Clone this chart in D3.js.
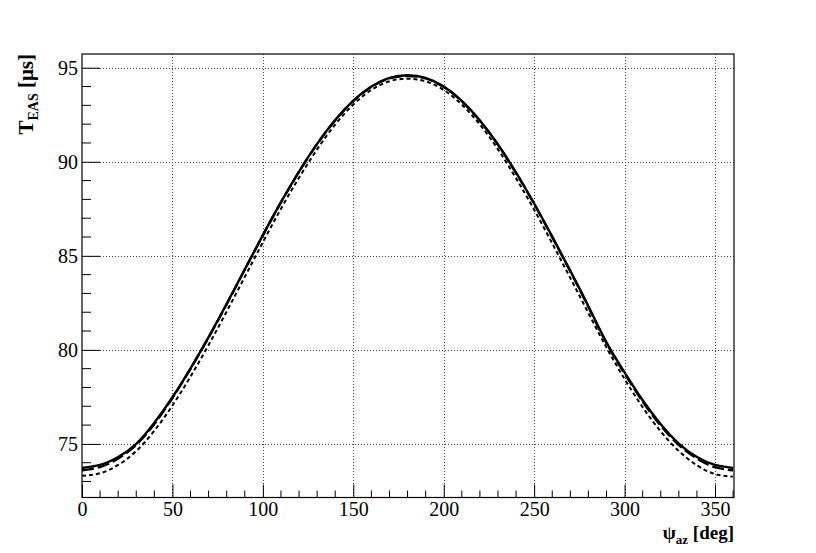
<!DOCTYPE html>
<html>
<head>
<meta charset="utf-8">
<script src="https://cdn.jsdelivr.net/npm/d3@7"></script>
<style>
html,body{margin:0;padding:0;background:#fff;}
svg{display:block;}
text{font-family:"Liberation Serif","Times New Roman",serif;}
</style>
</head>
<body>
<svg id="chart" width="816" height="553"></svg>
<script>
// ---- data ----
const psi = [0,10,20,30,40,50,60,70,80,90,100,110,120,130,140,150,160,170,180,
             190,200,210,220,230,240,250,260,270,280,290,300,310,320,330,340,350,360];
const solidT = [73.72,73.88,74.30,75.00,76.12,77.48,79.02,80.68,82.45,84.28,86.10,87.85,89.48,90.95,92.22,93.25,94.00,94.46,94.60,
                94.46,94.00,93.24,92.20,90.92,89.42,87.78,86.02,84.20,82.32,80.40,78.80,77.32,76.05,75.02,74.30,73.88,73.72];
const longDashT = [73.60,73.77,74.22,74.95,76.06,77.44,78.99,80.66,82.43,84.27,86.09,87.84,89.47,90.94,92.20,93.23,93.98,94.43,94.56,
                   94.43,93.98,93.22,92.18,90.90,89.40,87.76,85.99,84.17,82.28,80.35,78.74,77.25,75.97,74.94,74.22,73.76,73.60];
const shortDashT = [73.30,73.44,73.88,74.62,75.70,77.04,78.58,80.26,82.04,83.88,85.72,87.50,89.15,90.66,91.98,93.04,93.82,94.28,94.42,
                    94.28,93.82,93.04,91.98,90.66,89.12,87.45,85.66,83.82,81.95,80.12,78.45,76.95,75.66,74.62,73.86,73.40,73.26];
const xTicks = [0,50,100,150,200,250,300,350];
const yTicks = [75,80,85,90,95];
const xTitle = "ψ";
const xTitleSub = "az";
const xTitleUnit = " [deg]";
const yTitle = "T";
const yTitleSub = "EAS";
const yTitleUnit = " [μs]";

// ---- layout ----
const FONT = "'Liberation Serif','Times New Roman',serif";
const L = 82, R = 734, T = 54, B = 497.5;
const svg = d3.select("#chart");
const x = d3.scaleLinear().domain([0, 360.5]).range([L, R]);
const y = d3.scaleLinear().domain([72.15, 95.73]).range([B, T]);

// grid
const grid = svg.append("g").attr("stroke", "#444").attr("stroke-width", 1).attr("stroke-dasharray", "1,2");
grid.selectAll("line.gx").data(xTicks.filter(d => d > 0)).join("line")
  .attr("x1", d => Math.round(x(d)) + 0.5).attr("x2", d => Math.round(x(d)) + 0.5)
  .attr("y1", T).attr("y2", B);
grid.selectAll("line.gy").data(yTicks).join("line")
  .attr("x1", L).attr("x2", R)
  .attr("y1", d => Math.round(y(d)) + 0.5).attr("y2", d => Math.round(y(d)) + 0.5);

// axes (ticks inside, ROOT style)
const xMinor = d3.range(0, 361, 10).filter(d => d % 50 !== 0);
const yMinor = d3.range(73, 96, 1).filter(d => d % 5 !== 0);

const xAxis = d3.axisBottom(x).tickValues(xTicks).tickFormat(d3.format("d")).tickSizeInner(-13).tickSizeOuter(0).tickPadding(4);
const gx = svg.append("g").attr("transform", `translate(0,${B})`).call(xAxis)
  .attr("font-family", FONT).attr("font-size", 20);
gx.select(".domain").remove();
gx.selectAll(".tick line").attr("stroke", "#000");
gx.selectAll(".tick text").attr("fill", "#000");
svg.append("g").selectAll("line").data(xMinor).join("line")
  .attr("x1", d => x(d)).attr("x2", d => x(d)).attr("y1", B).attr("y2", B - 7).attr("stroke", "#000");

const yAxis = d3.axisLeft(y).tickValues(yTicks).tickFormat(d3.format("d")).tickSizeInner(-18).tickSizeOuter(0).tickPadding(4);
const gy = svg.append("g").attr("transform", `translate(${L},0)`).call(yAxis)
  .attr("font-family", FONT).attr("font-size", 20);
gy.select(".domain").remove();
gy.selectAll(".tick line").attr("stroke", "#000");
gy.selectAll(".tick text").attr("fill", "#000");
svg.append("g").selectAll("line").data(yMinor).join("line")
  .attr("x1", L).attr("x2", L + 9).attr("y1", d => y(d)).attr("y2", d => y(d)).attr("stroke", "#000");

// frame
svg.append("rect").attr("x", L).attr("y", T).attr("width", R - L).attr("height", B - T)
  .attr("fill", "none").attr("stroke", "#000").attr("stroke-width", 1.2);

// curves
const line = d3.line().x(d => x(d[0])).y(d => y(d[1])).curve(d3.curveNatural);
svg.append("clipPath").attr("id", "clip").append("rect")
  .attr("x", L).attr("y", T).attr("width", R - L).attr("height", B - T);
const curves = svg.append("g").attr("clip-path", "url(#clip)").attr("fill", "none").attr("stroke", "#000");
curves.append("path").datum(psi.map((p, i) => [p, shortDashT[i]])).attr("d", line)
  .attr("stroke-width", 2).attr("stroke-dasharray", "4,3");
curves.append("path").datum(psi.map((p, i) => [p, solidT[i]])).attr("d", line)
  .attr("stroke-width", 2.4);
curves.append("path").datum(psi.map((p, i) => [p, longDashT[i]])).attr("d", line)
  .attr("stroke-width", 2.4).attr("stroke-dasharray", "12,4");

// axis titles
const xt = svg.append("text").attr("x", R).attr("y", 539).attr("text-anchor", "end")
  .attr("font-size", 19).attr("font-weight", "bold").attr("fill", "#000");
xt.append("tspan").text(xTitle);
xt.append("tspan").attr("font-size", 13).attr("dy", 5).text(xTitleSub);
xt.append("tspan").attr("dy", -5).text(xTitleUnit);

const yt = svg.append("text").attr("transform", `translate(33,${T}) rotate(-90)`).attr("text-anchor", "end")
  .attr("font-size", 21).attr("font-weight", "bold").attr("fill", "#000");
yt.append("tspan").text(yTitle);
yt.append("tspan").attr("font-size", 14).attr("dy", 5).text(yTitleSub);
yt.append("tspan").attr("dy", -5).text(yTitleUnit);
</script>
</body>
</html>
